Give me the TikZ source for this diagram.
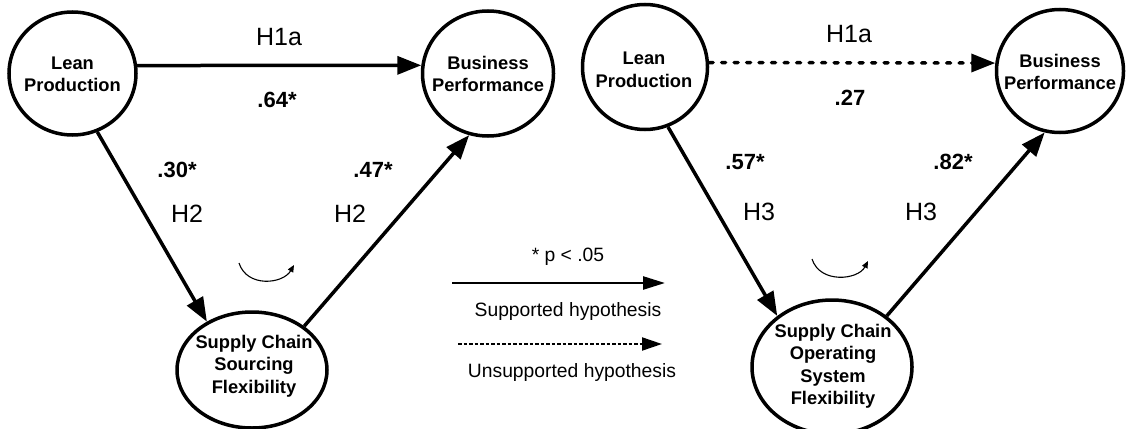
\documentclass[tikz,border=0pt]{standalone}
\usepackage{fontspec}
\setmainfont{Liberation Sans}
\usetikzlibrary{shapes.geometric,arrows.meta}
\begin{document}
\begin{tikzpicture}[x=1pt,y=-1pt,
  construct/.style={ellipse, draw, line width=3.5pt, inner sep=0pt},
  ctext/.style={font=\bfseries\fontsize{18.3}{22.5}\selectfont, align=center, inner sep=0pt},
  hyp/.style={line width=3.5pt, -{Triangle[length=24pt,width=18pt]}},
  nshyp/.style={hyp, dash pattern=on 4pt off 8.5pt, line cap=round},
  hlab/.style={font=\fontsize{25}{30}\selectfont, inner sep=0pt},
  coef/.style={font=\bfseries\fontsize{22}{26}\selectfont, inner sep=0pt},
  legtext/.style={font=\fontsize{19.3}{23}\selectfont, inner sep=0pt},
  legsolid/.style={line width=2.5pt, -{Triangle[length=22pt,width=13pt]}},
  legdash/.style={line width=2pt, dash pattern=on 3.5pt off 2pt, -{Triangle[length=20pt,width=13pt]}},
  medarrow/.style={line width=1.1pt, -{Triangle[length=7pt,width=6pt]}}]
\useasboundingbox (0,0) rectangle (1126,428);

% ---- Model 1: sourcing flexibility ----
\node[construct, minimum width=127pt, minimum height=123pt] (lp1) at (72.5,73.5) {};
\node[ctext] (lp1t) at (72.5,74.5) {Lean\\Production};
\node[construct, minimum width=131pt, minimum height=125pt] (bp1) at (488,73.5) {};
\node[ctext] (bp1t) at (488,74) {Business\\Performance};
\node[construct, minimum width=150pt, minimum height=116pt] (scsf1) at (252,370) {};
\node[ctext] (scsf1t) at (254,366) {Supply Chain\\Sourcing\\Flexibility};

\draw[hyp] (lp1.7) -- (bp1.173);
\draw[hyp] (lp1.-67.6) -- (scsf1.133);
\draw[hyp] (scsf1.40) -- (bp1.-107);

\node[hlab] (h1a1) at (279,37) {H1a};
\node[coef] (c64) at (277,100) {.64*};
\node[coef] (c30) at (177,170) {.30*};
\node[hlab] (h2a) at (187,214) {H2};
\node[coef] (c47) at (373,170) {.47*};
\node[hlab] (h2b) at (350,214) {H2};

\draw[medarrow] (239,263) .. controls (247,288) and (283,284) .. (294,265);

% ---- Legend ----
\node[legtext] (psig) at (568,257) {* p {<} .05};
\coordinate (ls1) at (452,283);
\coordinate (ls2) at (665,283);
\draw[legsolid] (ls1) -- (ls2);
\node[legtext] (lsup) at (568,312) {Supported hypothesis};
\coordinate (ld1) at (458,344);
\coordinate (ld2) at (662,344);
\draw[legdash] (ld1) -- (ld2);
\node[legtext] (lunsup) at (572,373) {Unsupported hypothesis};

% ---- Model 2: operating system flexibility ----
\node[construct, minimum width=125pt, minimum height=125pt] (lp2) at (645,67) {};
\node[ctext] (lp2t) at (644,70) {Lean\\Production};
\node[construct, minimum width=127pt, minimum height=123pt] (bp2) at (1060,71) {};
\node[ctext] (bp2t) at (1060,72) {Business\\Performance};
\node[construct, minimum width=160pt, minimum height=134pt] (scsf2) at (832,367) {};
\node[ctext] (scsf2t) at (833,366.5) {Supply Chain\\Operating\\System\\Flexibility};

\draw[nshyp] (lp2.4) -- (bp2.173);
\draw[hyp] (lp2.-69.6) -- (scsf2.137.7);
\draw[hyp] (scsf2.43) -- (bp2.-104.7);

\node[hlab] (h1a2) at (849,34) {H1a};
\node[coef] (c27) at (850,98) {.27};
\node[coef] (c57) at (745,162) {.57*};
\node[hlab] (h3a) at (759,212) {H3};
\node[coef] (c82) at (953,162) {.82*};
\node[hlab] (h3b) at (921,212) {H3};

\draw[medarrow] (812,259) .. controls (820,284) and (858,280) .. (868,261);
\end{tikzpicture}
\end{document}
